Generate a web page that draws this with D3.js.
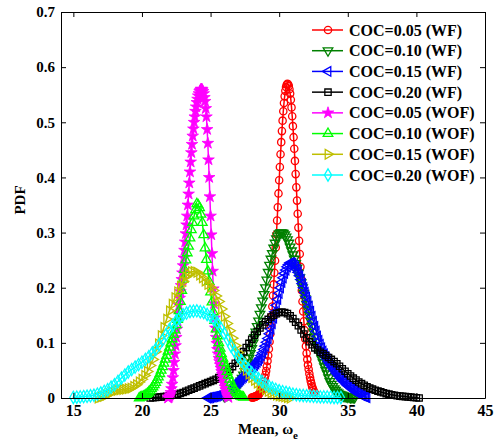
<!DOCTYPE html>
<html>
<head>
<meta charset="utf-8">
<script src="https://cdn.jsdelivr.net/npm/d3@7"></script>
<style>
  body { margin: 0; background: #fff; }
  svg { display: block; }
</style>
</head>
<body>
<script>
// legend labels, in drawing order
const seriesNames = [
  'COC=0.05 (WF)', 'COC=0.10 (WF)', 'COC=0.15 (WF)', 'COC=0.20 (WF)',
  'COC=0.05 (WOF)', 'COC=0.10 (WOF)', 'COC=0.15 (WOF)', 'COC=0.20 (WOF)'
];

// each curve is sampled on an even grid: first x and step
const gridStart = [28.0, 26.0, 24.8, 20.6, 21.9, 19.8, 16.8, 15.0];
const gridStep  = [0.05, 0.1, 0.1, 0.2, 0.05, 0.1, 0.2, 0.25];

// PDF values
const pdfWF005 = [
  .001, .001, .001, .0015, .002, .0025, .003, .0035, .004, .005,
  .006, .008, .010, .012, .014, .017, .021, .025, .030, .036,
  .042, .049, .057, .067, .077, .089, .102, .116, .131, .148,
  .166, .186, .206, .227, .249, .273, .297, .322, .346, .371,
  .395, .419, .442, .464, .484, .503, .520, .535, .547, .557,
  .564, .568, .570, .569, .566, .560, .552, .541, .527, .511,
  .493, .473, .452, .430, .406, .382, .358, .334, .309, .285,
  .261, .238, .216, .195, .175, .157, .139, .123, .107, .094,
  .081, .070, .060, .052, .044, .037, .031, .026, .021, .017,
  .014, .011, .009];
const pdfWF010 = [
  .003, .004, .005, .007, .008, .010, .012, .014, .016, .019,
  .022, .026, .031, .036, .042, .048, .056, .064, .072, .081,
  .090, .100, .110, .120, .130, .140, .152, .164, .176, .188,
  .200, .214, .228, .241, .252, .262, .272, .281, .289, .294,
  .298, .300, .300, .299, .296, .292, .287, .281, .274, .267,
  .260, .252, .244, .236, .227, .218, .209, .200, .190, .180,
  .170, .160, .150, .140, .130, .120, .111, .102, .094, .086,
  .078, .071, .064, .057, .050, .044, .037, .030, .025, .021,
  .017, .014, .011, .009, .007, .006, .005, .004, .003, .003,
  .002, .002, .001, .001, .001, .001];
const pdfWF015 = [
  .000, .0005, .001, .0015, .002, .0025, .003, .004, .005, .006,
  .007, .008, .009, .0105, .012, .014, .016, .018, .020, .022,
  .024, .026, .028, .0305, .033, .0355, .038, .0405, .043, .0455,
  .048, .0505, .053, .056, .059, .062, .065, .0685, .072, .077,
  .082, .088, .094, .101, .108, .1165, .125, .135, .145, .1565,
  .168, .179, .190, .200, .210, .218, .226, .232, .238, .2415,
  .245, .245, .244, .241, .238, .233, .228, .2215, .215, .2075,
  .200, .1915, .183, .1745, .166, .157, .148, .139, .130, .121,
  .112, .1045, .097, .091, .085, .080, .075, .0705, .066, .0625,
  .059, .0555, .052, .0485, .045, .042, .039, .036, .033, .0305,
  .028, .0255, .023, .021, .019, .017, .015, .013, .011, .0095,
  .008, .0065, .005, .004, .003, .002, .001];
const pdfWF020 = [
  .000, .0005, .001, .0015, .002, .0025, .003, .004, .005, .006,
  .007, .0085, .010, .012, .014, .016, .018, .020, .022, .024,
  .026, .028, .030, .032, .034, .037, .040, .043, .047, .052,
  .057, .063, .070, .077, .084, .0915, .099, .1065, .114, .1205,
  .127, .1325, .138, .1425, .147, .150, .153, .155, .156, .155,
  .153, .149, .144, .1375, .131, .1235, .116, .109, .102, .0965,
  .091, .087, .083, .080, .077, .0735, .070, .066, .062, .0575,
  .053, .0485, .044, .040, .036, .0325, .029, .026, .023, .0205,
  .018, .016, .014, .0125, .011, .0095, .008, .007, .006, .005,
  .004, .0035, .003, .0025, .002, .0015, .001, .0005, .000];
const pdfWOF005 = [
  .000, .001, .003, .006, .010, .017, .025, .037, .050, .065,
  .080, .095, .110, .125, .140, .154, .168, .181, .193, .204,
  .215, .227, .240, .254, .268, .283, .298, .314, .330, .350,
  .370, .390, .410, .428, .445, .460, .475, .488, .500, .510,
  .520, .528, .536, .542, .548, .552, .556, .558, .560, .560,
  .559, .556, .552, .545, .538, .525, .510, .487, .462, .432,
  .400, .365, .330, .296, .262, .230, .198, .171, .145, .127,
  .110, .099, .088, .080, .072, .066, .060, .054, .048, .043,
  .038, .032, .026, .020, .015, .010, .006, .003, .001];
const pdfWOF010 = [
  .000, .001, .002, .003, .004, .006, .008, .0105, .013, .0165,
  .020, .024, .028, .033, .038, .044, .050, .0565, .063, .070,
  .077, .0845, .092, .0995, .107, .115, .123, .1325, .142, .158,
  .175, .195, .215, .233, .250, .263, .275, .290, .305, .318,
  .330, .341, .352, .350, .345, .333, .318, .296, .272, .251,
  .230, .211, .192, .174, .156, .1405, .125, .1125, .100, .090,
  .080, .072, .064, .056, .048, .041, .034, .028, .022, .0175,
  .013, .010, .007, .005, .003, .002, .001];
const pdfWOF015 = [
  .000, .0015, .003, .0055, .008, .0105, .013, .014, .015, .0155,
  .016, .017, .018, .021, .024, .029, .034, .041, .048, .059,
  .070, .084, .098, .113, .128, .143, .158, .170, .182, .1925,
  .203, .2115, .220, .2245, .229, .2295, .228, .223, .218, .212,
  .206, .2005, .195, .185, .175, .1615, .148, .135, .122, .1085,
  .095, .0825, .070, .060, .050, .0435, .037, .032, .027, .023,
  .019, .0155, .012, .0095, .007, .0055, .004, .003, .002, .001,
  .000];
const pdfWOF020 = [
  .001, .0015, .002, .0025, .003, .004, .005, .007, .009, .012,
  .015, .0195, .024, .030, .036, .0415, .047, .0515, .056, .0605,
  .065, .070, .075, .0815, .088, .0965, .105, .1145, .124, .132,
  .140, .1455, .151, .154, .157, .1575, .158, .1565, .155, .1515,
  .148, .142, .136, .1265, .117, .1055, .094, .0845, .075, .0675,
  .060, .053, .046, .0405, .035, .030, .025, .0215, .018, .0155,
  .013, .0115, .010, .0085, .007, .006, .005, .0045, .004, .0035,
  .003, .0025, .002, .002, .002, .0015, .001, .001, .001];

const pdfValues = [pdfWF005, pdfWF010, pdfWF015, pdfWF020,
  pdfWOF005, pdfWOF010, pdfWOF015, pdfWOF020];

const xTicks = [15, 20, 25, 30, 35, 40, 45];
const yTicks = [0, 0.1, 0.2, 0.3, 0.4, 0.5, 0.6, 0.7];

// look of each series
const colors = ['#ff0000', '#008000', '#0000ff', '#000000', '#ff00ff', '#00ff00', '#bfbf00', '#00ffff'];
const markers = [
  { type: d3.symbolCircle, size: 42, rot: 0, fill: false },
  { type: d3.symbolTriangle, size: 40, rot: 180, fill: false },
  { type: d3.symbolTriangle, size: 40, rot: -90, fill: false },
  { type: d3.symbolSquare, size: 40, rot: 0, fill: false },
  { type: d3.symbolStar, size: 42, rot: 0, fill: true },
  { type: d3.symbolTriangle, size: 40, rot: 0, fill: false },
  { type: d3.symbolTriangle, size: 40, rot: 90, fill: false },
  { type: d3.symbolDiamond, size: 44, rot: 0, fill: false }
];

const W = 497, H = 443;
const plot = { left: 61, right: 485, top: 12, bottom: 398 };
const serif = '"Liberation Serif", "Times New Roman", serif';

const svg = d3.select('body').append('svg')
  .attr('width', W)
  .attr('height', H);

const x = d3.scaleLinear().domain([14.1, 45]).range([plot.left, plot.right]);
const y = d3.scaleLinear().domain([0, 0.7]).range([plot.bottom, plot.top]);

// curves
const series = pdfValues.map((vals, i) => ({
  name: seriesNames[i],
  points: vals.map((v, j) => [gridStart[i] + j * gridStep[i], v])
}));

const line = d3.line().x(d => x(d[0])).y(d => y(d[1]));

function markerPath(m) {
  return d3.symbol().type(m.type).size(m.size)();
}

const curves = svg.append('g').attr('class', 'curves');
series.forEach((s, i) => {
  const g = curves.append('g');
  const m = markers[i];
  g.append('path')
    .attr('d', line(s.points))
    .attr('fill', 'none')
    .attr('stroke', colors[i])
    .attr('stroke-width', 1.5);
  g.selectAll('path.mk').data(s.points)
    .join('path')
    .attr('class', 'mk')
    .attr('d', markerPath(m))
    .attr('transform', d => `translate(${x(d[0])},${y(d[1])}) rotate(${m.rot})`)
    .attr('fill', m.fill ? colors[i] : 'none')
    .attr('stroke', colors[i])
    .attr('stroke-width', m.fill ? 0.8 : 1.3);
});

// axes, ticks point inward on all four sides
function styleAxis(g, size) {
  g.select('.domain').attr('stroke', '#000').attr('stroke-width', 1);
  g.selectAll('.tick line').attr('stroke', '#000');
  g.selectAll('text')
    .attr('fill', '#000')
    .style('font-family', serif)
    .style('font-weight', 'bold')
    .style('font-size', size);
}

svg.append('g')
  .attr('transform', `translate(0,${plot.bottom})`)
  .call(d3.axisBottom(x).tickValues(xTicks).tickSizeInner(-5).tickSizeOuter(0).tickPadding(7).tickFormat(d3.format('d')))
  .call(g => styleAxis(g, '16px'));

svg.append('g')
  .attr('transform', `translate(0,${plot.top})`)
  .call(d3.axisTop(x).tickValues(xTicks).tickSizeInner(-5).tickSizeOuter(0).tickFormat(''))
  .call(g => styleAxis(g, '16px'));

svg.append('g')
  .attr('transform', `translate(${plot.left},0)`)
  .call(d3.axisLeft(y).tickValues(yTicks).tickSizeInner(-5).tickSizeOuter(0).tickPadding(6)
    .tickFormat(d => d === 0 ? '0' : d.toFixed(1)))
  .call(g => styleAxis(g, '15px'));

svg.append('g')
  .attr('transform', `translate(${plot.right},0)`)
  .call(d3.axisRight(y).tickValues(yTicks).tickSizeInner(-5).tickSizeOuter(0).tickFormat(''))
  .call(g => styleAxis(g, '15px'));

// axis titles
const xTitle = svg.append('text')
  .attr('x', 268)
  .attr('y', 434)
  .attr('text-anchor', 'middle')
  .style('font-family', serif)
  .style('font-weight', 'bold')
  .style('font-size', '15px')
  .text('Mean, ω');
xTitle.append('tspan')
  .attr('dy', 5)
  .style('font-size', '11px')
  .text('e');

svg.append('text')
  .attr('transform', 'translate(25,200) rotate(-90)')
  .attr('text-anchor', 'middle')
  .style('font-family', serif)
  .style('font-weight', 'bold')
  .style('font-size', '15px')
  .text('PDF');

// legend
const legend = svg.append('g').attr('class', 'legend');
const rowY = d3.scalePoint().domain(seriesNames).range([30, 175]);
seriesNames.forEach((name, i) => {
  const ly = rowY(name);
  const m = markers[i];
  legend.append('line')
    .attr('x1', 312).attr('x2', 343)
    .attr('y1', ly).attr('y2', ly)
    .attr('stroke', colors[i])
    .attr('stroke-width', 1.5);
  legend.append('path')
    .attr('d', markerPath(m))
    .attr('transform', `translate(328,${ly}) rotate(${m.rot})`)
    .attr('fill', m.fill ? colors[i] : 'none')
    .attr('stroke', colors[i])
    .attr('stroke-width', m.fill ? 0.8 : 1.3);
  legend.append('text')
    .attr('x', 349)
    .attr('y', ly)
    .attr('dy', '0.35em')
    .style('font-family', serif)
    .style('font-weight', 'bold')
    .style('font-size', '16px')
    .text(name);
});
</script>
</body>
</html>
